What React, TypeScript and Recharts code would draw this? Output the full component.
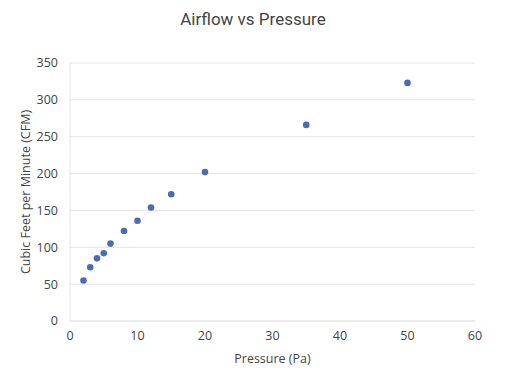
import React from "react";
import { ScatterChart, Scatter, XAxis, YAxis, CartesianGrid, ZAxis } from "recharts";

const pressure = [2, 3, 4, 5, 6, 8, 10, 12, 15, 20, 35, 50];
const airflow = [55, 73, 85, 92, 105, 122, 136, 154, 172, 202, 266, 323];
const xTicks = [0, 10, 20, 30, 40, 50, 60];
const yTicks = [0, 50, 100, 150, 200, 250, 300, 350];

const data = pressure.map((p, i) => ({ x: p, y: airflow[i] }));

const FONT = "'Open Sans', sans-serif";
const tickStyle = { fontSize: 12.5, fill: "#444", fontFamily: FONT };

const Dot = (props: any) => {
  const { cx, cy } = props;
  if (cx == null || cy == null) return null;
  return <circle cx={cx} cy={cy} r={3.3} fill="#4a6cb5" />;
};

export default function App() {
  return (
    <div style={{ position: "absolute", left: 0, top: 0, width: 521, height: 375, background: "#fff" }}>
      <div
        style={{
          position: "absolute",
          left: 0,
          top: 9,
          width: 506,
          textAlign: "center",
          fontFamily: "Roboto, sans-serif",
          fontSize: 17,
          color: "#444",
        }}
      >
        Airflow vs Pressure
      </div>
      <ScatterChart
        width={521}
        height={375}
        margin={{ top: 63, right: 46, bottom: 0, left: 0 }}
      >
        <CartesianGrid vertical={false} stroke="#e4e4e4" />
        <XAxis
          type="number"
          dataKey="x"
          domain={[0, 60]}
          ticks={xTicks}
          height={54}
          tickLine={false}
          tickSize={0}
          tickMargin={10}
          axisLine={{ stroke: "#e4e4e4" }}
          tick={tickStyle}
          label={{
            value: "Pressure (Pa)",
            position: "insideBottom",
            offset: 12,
            style: { fontSize: 12.5, fill: "#444", fontFamily: FONT },
          }}
        />
        <YAxis
          type="number"
          dataKey="y"
          domain={[0, 350]}
          ticks={yTicks}
          width={70}
          tickLine={false}
          tickSize={0}
          tickMargin={12}
          axisLine={{ stroke: "#e4e4e4" }}
          tick={tickStyle}
          label={{
            value: "Cubic Feet per Minute (CFM)",
            angle: -90,
            position: "insideLeft",
            offset: 26,
            style: { textAnchor: "middle", fontSize: 12.5, fill: "#444", fontFamily: FONT },
          }}
        />
        <ZAxis range={[40, 40]} />
        <Scatter data={data} shape={<Dot />} isAnimationActive={false} />
      </ScatterChart>
    </div>
  );
}
